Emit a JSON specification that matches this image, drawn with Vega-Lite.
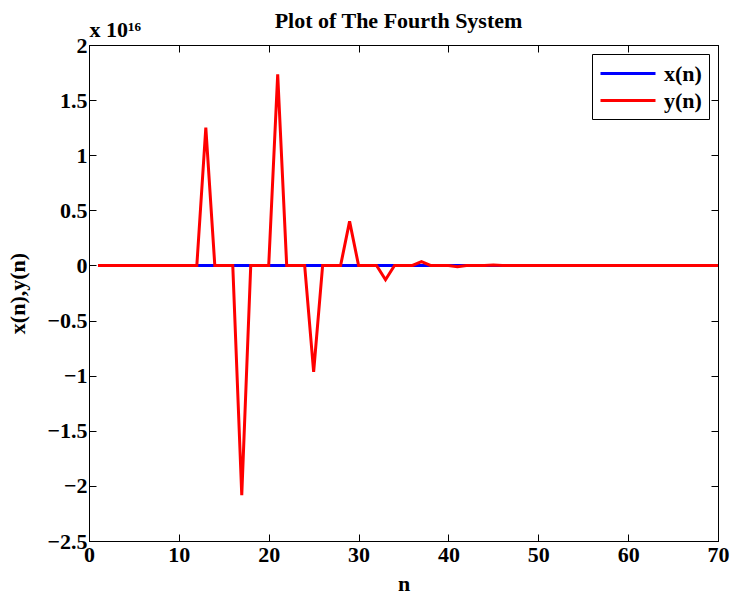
{
  "$schema": "https://vega.github.io/schema/vega-lite/v6.json",
  "width": 629,
  "height": 496,
  "autosize": {"type": "none"},
  "padding": {"left": 89, "top": 45, "right": 12, "bottom": 57},
  "background": "white",
  "title": {
    "text": "Plot of The Fourth System",
    "font": "Liberation Serif",
    "fontWeight": "bold",
    "fontSize": 22,
    "color": "black",
    "anchor": "middle",
    "offset": 0,
    "dy": 15,
    "dx": -5
  },
  "config": {
    "view": {"stroke": "black", "strokeWidth": 1},
    "axis": {
      "labelFont": "Liberation Serif",
      "labelFontWeight": "bold",
      "labelFontSize": 22,
      "labelColor": "black",
      "titleFont": "Liberation Serif",
      "titleFontWeight": "bold",
      "titleFontSize": 22,
      "titleColor": "black",
      "domainColor": "black",
      "tickColor": "black",
      "tickSize": -7,
      "grid": false,
      "labelFlush": false,
      "labelOverlap": false,
      "labelBound": false
    },
    "legend": {
      "labelFont": "Liberation Serif",
      "labelFontWeight": "bold",
      "labelFontSize": 22,
      "labelColor": "black"
    }
  },
  "data": {
    "values": [
      {"n": 1, "xn": 0, "yn": 0},
      {"n": 2, "xn": 0, "yn": 0},
      {"n": 3, "xn": 0, "yn": 0},
      {"n": 4, "xn": 0, "yn": 0},
      {"n": 5, "xn": 0, "yn": 0},
      {"n": 6, "xn": 0, "yn": 0},
      {"n": 7, "xn": 0, "yn": 0},
      {"n": 8, "xn": 0, "yn": 0},
      {"n": 9, "xn": 0, "yn": 0},
      {"n": 10, "xn": 0, "yn": 0},
      {"n": 11, "xn": 0, "yn": 0},
      {"n": 12, "xn": 0, "yn": 0},
      {"n": 13, "xn": 0, "yn": 1.25e16},
      {"n": 14, "xn": 0, "yn": 0},
      {"n": 15, "xn": 0, "yn": 0},
      {"n": 16, "xn": 0, "yn": 0},
      {"n": 17, "xn": 0, "yn": -2.085e16},
      {"n": 18, "xn": 0, "yn": 0},
      {"n": 19, "xn": 0, "yn": 0},
      {"n": 20, "xn": 0, "yn": 0},
      {"n": 21, "xn": 0, "yn": 1.735e16},
      {"n": 22, "xn": 0, "yn": 0},
      {"n": 23, "xn": 0, "yn": 0},
      {"n": 24, "xn": 0, "yn": 0},
      {"n": 25, "xn": 0, "yn": -0.965e16},
      {"n": 26, "xn": 0, "yn": 0},
      {"n": 27, "xn": 0, "yn": 0},
      {"n": 28, "xn": 0, "yn": 0},
      {"n": 29, "xn": 0, "yn": 0.4e16},
      {"n": 30, "xn": 0, "yn": 0},
      {"n": 31, "xn": 0, "yn": 0},
      {"n": 32, "xn": 0, "yn": 0},
      {"n": 33, "xn": 0, "yn": -0.13e16},
      {"n": 34, "xn": 0, "yn": 0},
      {"n": 35, "xn": 0, "yn": 0},
      {"n": 36, "xn": 0, "yn": 0},
      {"n": 37, "xn": 0, "yn": 0.035e16},
      {"n": 38, "xn": 0, "yn": 0},
      {"n": 39, "xn": 0, "yn": 0},
      {"n": 40, "xn": 0, "yn": 0},
      {"n": 41, "xn": 0, "yn": -0.012e16},
      {"n": 42, "xn": 0, "yn": 0},
      {"n": 43, "xn": 0, "yn": 0},
      {"n": 44, "xn": 0, "yn": 0},
      {"n": 45, "xn": 0, "yn": 0.003e16},
      {"n": 46, "xn": 0, "yn": 0},
      {"n": 47, "xn": 0, "yn": 0},
      {"n": 48, "xn": 0, "yn": 0},
      {"n": 49, "xn": 0, "yn": -0.001e16},
      {"n": 50, "xn": 0, "yn": 0},
      {"n": 51, "xn": 0, "yn": 0},
      {"n": 52, "xn": 0, "yn": 0},
      {"n": 53, "xn": 0, "yn": 0},
      {"n": 54, "xn": 0, "yn": 0},
      {"n": 55, "xn": 0, "yn": 0},
      {"n": 56, "xn": 0, "yn": 0},
      {"n": 57, "xn": 0, "yn": 0},
      {"n": 58, "xn": 0, "yn": 0},
      {"n": 59, "xn": 0, "yn": 0},
      {"n": 60, "xn": 0, "yn": 0},
      {"n": 61, "xn": 0, "yn": 0},
      {"n": 62, "xn": 0, "yn": 0},
      {"n": 63, "xn": 0, "yn": 0},
      {"n": 64, "xn": 0, "yn": 0},
      {"n": 65, "xn": 0, "yn": 0},
      {"n": 66, "xn": 0, "yn": 0},
      {"n": 67, "xn": 0, "yn": 0},
      {"n": 68, "xn": 0, "yn": 0},
      {"n": 69, "xn": 0, "yn": 0},
      {"n": 70, "xn": 0, "yn": 0}
    ]
  },
  "transform": [{"fold": ["xn", "yn"], "as": ["series", "value"]}],
  "layer": [
    {
      "mark": {"type": "line", "strokeWidth": 3, "clip": true},
      "encoding": {
        "x": {
          "field": "n",
          "type": "quantitative",
          "scale": {"domain": [0, 70], "nice": false, "zero": false},
          "axis": {"values": [0, 10, 20, 30, 40, 50, 60, 70], "title": "n", "labelPadding": 10, "titlePadding": 8}
        },
        "y": {
          "field": "value",
          "type": "quantitative",
          "scale": {"domain": [-2.5e16, 2e16], "nice": false, "zero": false},
          "axis": {
            "values": [-2.5e16, -2e16, -1.5e16, -1e16, -0.5e16, 0, 0.5e16, 1e16, 1.5e16, 2e16],
            "labelExpr": "format(datum.value / 1e16, '~g')",
            "title": "x(n),y(n)",
            "labelPadding": 9,
            "titlePadding": 17
          }
        },
        "color": {
          "field": "series",
          "type": "nominal",
          "scale": {"domain": ["xn", "yn"], "range": ["#0000ff", "#ff0000"]},
          "legend": {
            "title": null,
            "orient": "top-right",
            "offset": 9,
            "strokeColor": "black",
            "fillColor": "white",
            "padding": 7,
            "symbolType": "M-1,0H4",
            "symbolSize": 484,
            "symbolStrokeWidth": 3,
            "labelOffset": 40,
            "rowPadding": 3,
            "labelExpr": "datum.label == 'xn' ? 'x(n)' : 'y(n)'"
          }
        }
      }
    },
    {
      "mark": {"type": "line", "opacity": 0},
      "encoding": {
        "x": {
          "field": "n",
          "type": "quantitative",
          "scale": {"domain": [0, 70], "nice": false, "zero": false},
          "axis": {
            "orient": "top",
            "values": [0, 10, 20, 30, 40, 50, 60, 70],
            "labels": false,
            "title": "x 10¹⁶",
            "titleAnchor": "start",
            "titleAlign": "left",
            "titleBaseline": "alphabetic",
            "titleX": 0,
            "titleY": -9
          }
        },
        "y": {
          "field": "value",
          "type": "quantitative",
          "scale": {"domain": [-2.5e16, 2e16], "nice": false, "zero": false},
          "axis": {
            "orient": "right",
            "values": [-2.5e16, -2e16, -1.5e16, -1e16, -0.5e16, 0, 0.5e16, 1e16, 1.5e16, 2e16],
            "labels": false,
            "title": null
          }
        }
      }
    }
  ],
  "resolve": {"axis": {"x": "independent", "y": "independent"}}
}
